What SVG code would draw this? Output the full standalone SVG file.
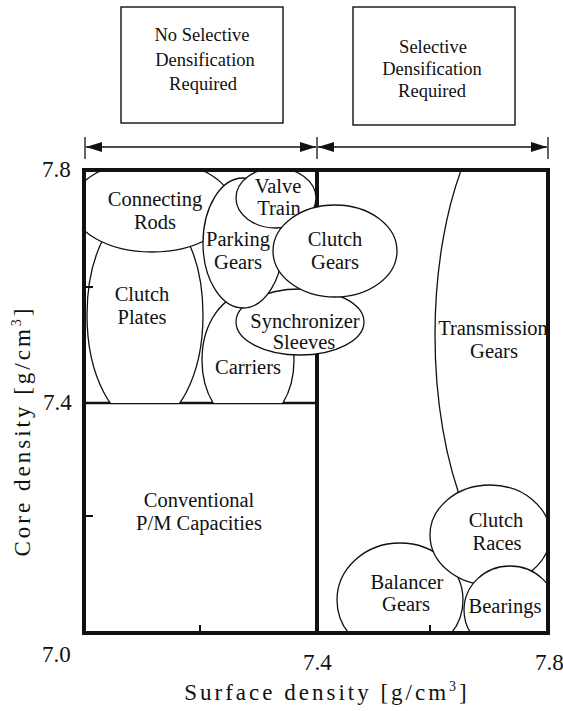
<svg xmlns="http://www.w3.org/2000/svg" width="563" height="711" viewBox="0 0 563 711" font-family="'Liberation Serif', 'Times New Roman', serif">
<defs>
<style>
.lbl{font-size:20.5px;text-anchor:middle;fill:#111}
.box{font-size:18.5px;text-anchor:middle;fill:#111}
.tick{font-size:23px;fill:#111}
.title{font-size:23px;letter-spacing:3px;text-anchor:middle;fill:#111}
.ell{fill:#fff;stroke:#111;stroke-width:1.3}
.thin{fill:none;stroke:#111;stroke-width:1.4}
</style>
<marker id="ah" viewBox="0 0 16 10" refX="16" refY="5" markerWidth="16" markerHeight="10" markerUnits="userSpaceOnUse" orient="auto-start-reverse"><path d="M0,0 L16,5 L0,10 z" fill="#111"/></marker>
<clipPath id="upper"><rect x="84" y="170" width="464" height="233"/></clipPath>
<clipPath id="plot"><rect x="84" y="170" width="464" height="463"/></clipPath>
</defs>
<rect width="563" height="711" fill="#fff"/>

<g id="box-no-selective">
<rect x="121" y="7" width="162" height="116" class="thin"/>
<text class="box" x="202" y="41">No Selective</text>
<text class="box" x="205" y="66">Densification</text>
<text class="box" x="203" y="90">Required</text>
</g>
<g id="box-selective">
<rect x="353" y="7" width="162" height="118" class="thin"/>
<text class="box" x="433" y="53">Selective</text>
<text class="box" x="432" y="75">Densification</text>
<text class="box" x="432" y="97">Required</text>
</g>

<g id="connectors" stroke="#111" stroke-width="1.3" fill="none">
<line x1="85" y1="137" x2="85" y2="159"/>
<line x1="317" y1="137" x2="317" y2="159"/>
<line x1="548" y1="137" x2="548" y2="159"/>
<line x1="86" y1="147" x2="316" y2="147" marker-start="url(#ah)" marker-end="url(#ah)"/>
<line x1="318" y1="147" x2="547" y2="147" marker-start="url(#ah)" marker-end="url(#ah)"/>
</g>

<g id="grid" stroke="#111" fill="none">
<line x1="317" y1="170" x2="317" y2="633" stroke-width="4"/>
<line x1="84" y1="403" x2="317" y2="403" stroke-width="2.5"/>
</g>

<g id="clutch-plates">
<ellipse class="ell" cx="145" cy="315" rx="58" ry="110" clip-path="url(#upper)"/>
<text class="lbl" x="142" y="301">Clutch</text>
<text class="lbl" x="142" y="324">Plates</text>
</g>
<g id="carriers">
<ellipse class="ell" cx="248" cy="360" rx="46" ry="66" clip-path="url(#upper)"/>
<text class="lbl" x="248" y="374">Carriers</text>
</g>
<g id="connecting-rods">
<ellipse class="ell" cx="152" cy="206" rx="80" ry="46" clip-path="url(#upper)"/>
<text class="lbl" x="155" y="206">Connecting</text>
<text class="lbl" x="155" y="229">Rods</text>
</g>
<g id="synchronizer-sleeves">
<ellipse class="ell" cx="300" cy="322" rx="64" ry="33" clip-path="url(#upper)"/>
<text class="lbl" x="305" y="328">Synchronizer</text>
<text class="lbl" x="304" y="349">Sleeves</text>
</g>
<g id="parking-gears">
<ellipse class="ell" cx="243" cy="243" rx="40" ry="65" clip-path="url(#upper)"/>
<text class="lbl" x="238" y="246">Parking</text>
<text class="lbl" x="238" y="269">Gears</text>
</g>
<g id="valve-train">
<ellipse class="ell" cx="276" cy="198" rx="40" ry="30" clip-path="url(#upper)"/>
<text class="lbl" x="278" y="193">Valve</text>
<text class="lbl" x="279" y="215">Train</text>
</g>
<g id="clutch-gears">
<ellipse class="ell" cx="335" cy="251" rx="62" ry="46" clip-path="url(#upper)"/>
<text class="lbl" x="335" y="246">Clutch</text>
<text class="lbl" x="335" y="269">Gears</text>
</g>

<g id="transmission-gears">
<ellipse class="ell" cx="545" cy="335" rx="110" ry="255" clip-path="url(#plot)"/>
<text class="lbl" x="493" y="335">Transmission</text>
<text class="lbl" x="494" y="358">Gears</text>
</g>
<g id="balancer-gears">
<ellipse class="ell" cx="400" cy="600" rx="63" ry="57" clip-path="url(#plot)"/>
<text class="lbl" x="407" y="589">Balancer</text>
<text class="lbl" x="406" y="611">Gears</text>
</g>
<g id="clutch-races">
<ellipse class="ell" cx="490" cy="535" rx="60" ry="50" clip-path="url(#plot)"/>
<text class="lbl" x="496" y="527">Clutch</text>
<text class="lbl" x="497" y="550">Races</text>
</g>
<g id="bearings">
<ellipse class="ell" cx="510" cy="610" rx="46" ry="44" clip-path="url(#plot)"/>
<text class="lbl" x="505" y="613">Bearings</text>
</g>

<g id="conventional">
<text class="lbl" x="199" y="507">Conventional</text>
<text class="lbl" x="199" y="530">P/M Capacities</text>
</g>

<g id="frame" fill="none" stroke="#111">
<rect x="84" y="170" width="464" height="463" stroke-width="4"/>
<line x1="86" y1="287" x2="93" y2="287" stroke-width="2"/>
<line x1="86" y1="516" x2="93" y2="516" stroke-width="2"/>
<line x1="200" y1="625" x2="200" y2="632" stroke-width="2"/>
<line x1="430" y1="625" x2="430" y2="632" stroke-width="2"/>
</g>

<g id="axes">
<text class="tick" x="42" y="177">7.8</text>
<text class="tick" x="43" y="410">7.4</text>
<text class="tick" x="42" y="662">7.0</text>
<text class="tick" x="303" y="670">7.4</text>
<text class="tick" x="535" y="670">7.8</text>
<text class="title" x="327" y="700">Surface density [g/cm<tspan font-size="14" dy="-9">3</tspan><tspan dy="9">]</tspan></text>
<text class="title" transform="translate(30,431) rotate(-90)" x="0" y="0">Core density [g/cm<tspan font-size="14" dy="-9">3</tspan><tspan dy="9">]</tspan></text>
</g>
</svg>
